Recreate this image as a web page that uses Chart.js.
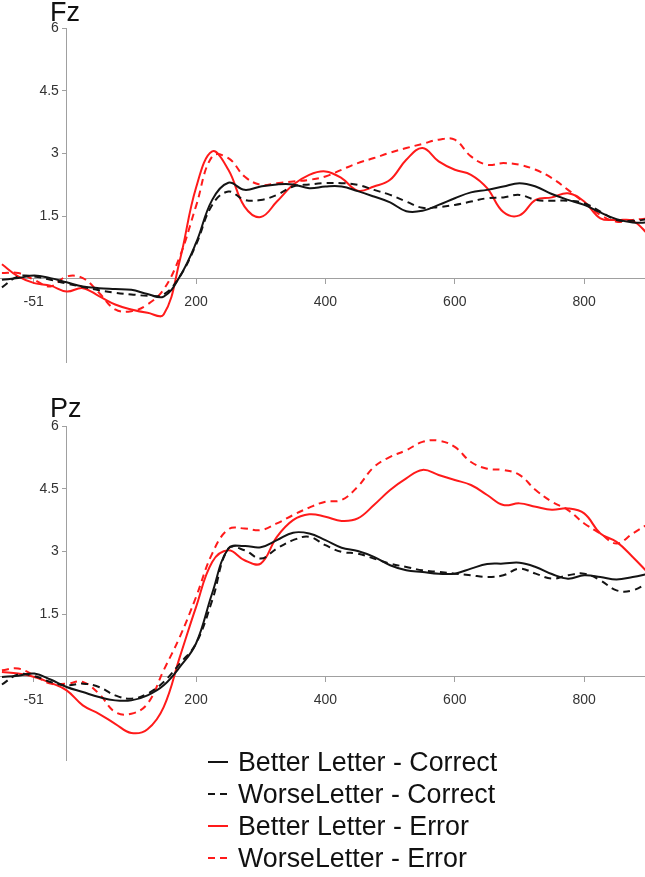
<!DOCTYPE html>
<html>
<head>
<meta charset="utf-8">
<script src="https://cdn.jsdelivr.net/npm/chart.js@4.4.1/dist/chart.umd.min.js"></script>
<style>
  body { margin: 0; background: #fff; font-family: "Liberation Sans", Arial, sans-serif; }
  #wrap { position: relative; width: 645px; height: 877px; overflow: hidden; }
  canvas { position: absolute; left: 0; }
  .panelTitle { position: absolute; left: 50px; font-size: 27px; line-height: 26px; color: #111; }
  #legend { position: absolute; left: 208px; top: 746px; list-style: none; margin: 0; padding: 0; }
  #legend li { display: flex; align-items: center; height: 32px; }
  #legend svg { display: block; }
  #legend span { margin-left: 10px; font-size: 26.8px; line-height: 32px; color: #111; white-space: nowrap; }
</style>
</head>
<body>
<div id="wrap">
  <canvas id="fzChart" width="645" height="374" style="top:0"></canvas>
  <canvas id="pzChart" width="645" height="402" style="top:370px"></canvas>
  <div class="panelTitle" style="top:-1px">Fz</div>
  <div class="panelTitle" style="top:395px">Pz</div>
  <ul id="legend"></ul>
</div>
<script>
// time points (ms)
const times = [-100, -75, -50, -25, 0, 25, 50, 75, 100, 125, 150, 175, 200, 225, 250, 275, 300, 325, 350, 375,
  400, 425, 450, 475, 500, 525, 550, 575, 600, 625, 650, 675, 700, 725, 750, 775, 800, 825, 850, 875, 900];

const xTicks = [-51, 200, 400, 600, 800];
const yTicks = [1.5, 3, 4.5, 6];

const seriesNames = ["Better Letter - Correct", "WorseLetter - Correct", "Better Letter - Error", "WorseLetter - Error"];
const seriesColors = ["#141414", "#141414", "#ff1a1a", "#ff1a1a"];
const seriesDashes = [[], [7, 5], [], [7, 5]];

// Fz
const fzBetterCorrect = [-0.02, 0.02, 0.08, 0.02, -0.08, -0.18, -0.22, -0.24, -0.26, -0.36, -0.42, 0.06, 0.86, 1.89, 2.3, 2.13, 2.21, 2.26, 2.26, 2.17,
  2.21, 2.21, 2.1, 1.97, 1.83, 1.62, 1.63, 1.77, 1.93, 2.07, 2.13, 2.21, 2.29, 2.21, 2.03, 1.89, 1.77, 1.59, 1.43, 1.35, 1.35];
const fzWorseCorrect = [-0.2, 0.06, 0.06, -0.02, -0.11, -0.19, -0.27, -0.33, -0.37, -0.4, -0.37, 0.06, 0.82, 1.77, 2.09, 1.89, 1.89, 2.01, 2.21, 2.26,
  2.29, 2.29, 2.25, 2.13, 2.01, 1.85, 1.7, 1.72, 1.77, 1.85, 1.93, 1.95, 2.01, 1.89, 1.87, 1.87, 1.81, 1.61, 1.41, 1.39, 1.43];
const fzBetterError = [0.35, 0.06, -0.1, -0.16, -0.3, -0.22, -0.41, -0.61, -0.73, -0.81, -0.85, 0.45, 2.18, 3.05, 2.61, 1.73, 1.48, 1.85, 2.25, 2.49,
  2.57, 2.41, 2.11, 2.21, 2.37, 2.85, 3.13, 2.81, 2.61, 2.49, 2.17, 1.6, 1.52, 1.89, 1.95, 2.05, 1.85, 1.45, 1.41, 1.39, 1.05];
const fzWorseError = [0.14, 0.14, -0.02, -0.18, 0.06, 0.02, -0.33, -0.73, -0.77, -0.61, -0.25, 0.54, 1.74, 2.93, 2.89, 2.45, 2.25, 2.29, 2.33, 2.37,
  2.45, 2.61, 2.77, 2.89, 3.02, 3.13, 3.23, 3.33, 3.33, 2.93, 2.73, 2.77, 2.73, 2.61, 2.41, 2.13, 1.83, 1.53, 1.37, 1.41, 1.45];

// Pz
const pzBetterCorrect = [0, 0.03, 0.08, -0.06, -0.24, -0.36, -0.48, -0.56, -0.56, -0.44, -0.2, 0.24, 0.8, 2.0, 3.07, 3.13, 3.1, 3.27, 3.45, 3.43,
  3.27, 3.09, 3.01, 2.87, 2.67, 2.55, 2.51, 2.47, 2.47, 2.59, 2.7, 2.71, 2.73, 2.63, 2.46, 2.35, 2.43, 2.39, 2.33, 2.39, 2.47];
const pzWorseCorrect = [-0.18, 0.06, 0.02, -0.12, -0.2, -0.16, -0.24, -0.44, -0.52, -0.4, -0.12, 0.32, 0.8, 1.83, 3.07, 3.03, 2.83, 3.07, 3.27, 3.35,
  3.15, 2.99, 2.95, 2.83, 2.71, 2.63, 2.55, 2.51, 2.47, 2.43, 2.39, 2.43, 2.59, 2.47, 2.35, 2.43, 2.47, 2.31, 2.07, 2.07, 2.27];
const pzBetterError = [0.12, 0.08, 0, -0.14, -0.32, -0.68, -0.88, -1.12, -1.34, -1.25, -0.72, 0.48, 1.67, 2.75, 3.03, 2.79, 2.71, 3.35, 3.75, 3.89,
  3.83, 3.73, 3.79, 4.11, 4.47, 4.75, 4.95, 4.83, 4.71, 4.59, 4.35, 4.11, 4.15, 4.07, 4.0, 4.03, 3.91, 3.43, 3.23, 2.87, 2.47];
const pzWorseError = [0.16, 0.2, 0.04, -0.16, -0.16, -0.12, -0.4, -0.84, -0.88, -0.64, 0.16, 0.96, 1.91, 2.95, 3.53, 3.55, 3.51, 3.67, 3.87, 4.05,
  4.19, 4.23, 4.55, 5.02, 5.26, 5.42, 5.62, 5.65, 5.5, 5.14, 4.98, 4.95, 4.83, 4.47, 4.19, 3.99, 3.67, 3.43, 3.19, 3.43, 3.67];

const FONT = "'Liberation Sans', Arial, sans-serif";
const AXIS_GRAY = "#a0a0a0";

function makePanel(id, series, padTop, padBottom) {
  const ctx = document.getElementById(id).getContext("2d");
  return new Chart(ctx, {
    type: "line",
    data: {
      datasets: series.map((vals, i) => ({
        label: seriesNames[i],
        data: times.map((t, j) => ({ x: t, y: vals[j] })),
        borderColor: seriesColors[i],
        borderDash: seriesDashes[i],
        borderWidth: 2,
        pointRadius: 0,
        tension: 0.4,
        fill: false
      }))
    },
    options: {
      responsive: false,
      animation: false,
      layout: { padding: { top: padTop, bottom: padBottom, left: 0, right: 0 } },
      plugins: {
        legend: { display: false },
        tooltip: { enabled: false },
        title: { display: false }
      },
      scales: {
        x: {
          type: "linear",
          min: -103,
          max: 894,
          position: { y: 0 },
          afterBuildTicks: axis => { axis.ticks = xTicks.map(v => ({ value: v })); },
          grid: { drawOnChartArea: false, drawTicks: true, tickLength: 5, color: AXIS_GRAY },
          border: { display: true, color: AXIS_GRAY, width: 1 },
          ticks: {
            autoSkip: false, maxRotation: 0, padding: 10,
            color: "#333", font: { family: FONT, size: 14 },
            callback: v => String(v)
          }
        },
        y: {
          type: "linear",
          min: -2,
          max: 6,
          position: { x: 0 },
          afterBuildTicks: axis => { axis.ticks = yTicks.map(v => ({ value: v })); },
          grid: { drawOnChartArea: false, drawTicks: true, tickLength: 4, color: AXIS_GRAY },
          border: { display: true, color: AXIS_GRAY, width: 1 },
          ticks: {
            color: "#333", font: { family: FONT, size: 14 },
            // labels sit right on the axis when it is placed by value, so pad with spaces
            callback: v => String(v) + "  "
          }
        }
      }
    }
  });
}

makePanel("fzChart", [fzBetterCorrect, fzWorseCorrect, fzBetterError, fzWorseError], 28, 4);
makePanel("pzChart", [pzBetterCorrect, pzWorseCorrect, pzBetterError, pzWorseError], 56, 4);

// legend
const legend = document.getElementById("legend");
seriesNames.forEach((name, i) => {
  const li = document.createElement("li");
  const dash = seriesDashes[i].length ? seriesDashes[i].join(" ") : "none";
  li.innerHTML = `
    <svg width="20" height="4"><line x1="0" y1="2" x2="20" y2="2" stroke="${seriesColors[i]}" stroke-width="2" stroke-dasharray="${dash}"/></svg>
    <span>${name}</span>
  `;
  legend.appendChild(li);
});
</script>
</body>
</html>
